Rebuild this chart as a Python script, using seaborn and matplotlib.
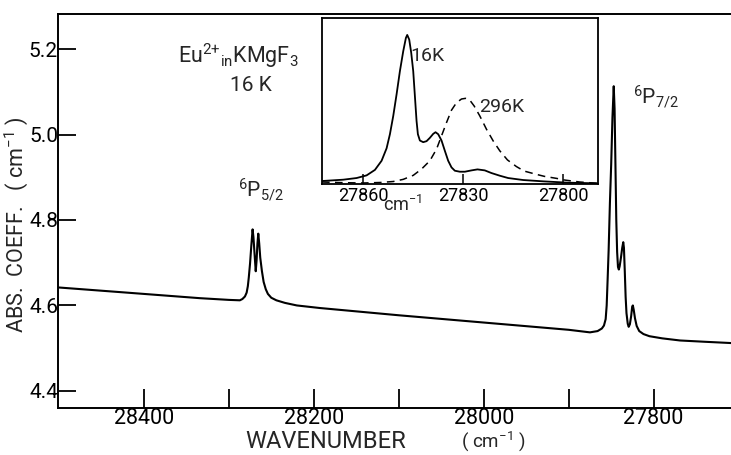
import matplotlib
matplotlib.use("Agg")
import matplotlib.pyplot as plt
import seaborn as sns
import pandas as pd

# main spectrum, 16 K (wavenumber cm-1, abs. coeff. cm-1)
main_wn = [28500, 28420, 28334, 28300, 28287, 28284, 28281, 28279, 28277.6, 28276.5,
           28275, 28273.5, 28272, 28271, 28269.5, 28268.3, 28267.3, 28266.3, 28265.3, 28264.2,
           28263, 28261, 28259, 28256.5, 28254, 28250, 28244, 28234, 28220, 28193,
           28100, 28000, 27900, 27875, 27866, 27861, 27858.5, 27856.5, 27855.3, 27854.2,
           27853, 27851.5, 27850, 27848.5, 27847, 27846, 27845, 27844, 27843, 27842,
           27841, 27840, 27838.5, 27837, 27835.8, 27835, 27834, 27833, 27832, 27830.5,
           27829.4, 27828, 27826.5, 27825.3, 27824.5, 27823.5, 27822, 27820, 27817, 27812,
           27805, 27790, 27769, 27740, 27709]
main_abs = [4.642, 4.630, 4.617, 4.613, 4.612, 4.615, 4.621, 4.630, 4.645, 4.665,
            4.698, 4.740, 4.778, 4.760, 4.715, 4.680, 4.705, 4.745, 4.768, 4.745,
            4.712, 4.680, 4.655, 4.638, 4.627, 4.618, 4.612, 4.606, 4.600, 4.594,
            4.577, 4.560, 4.543, 4.537, 4.540, 4.546, 4.553, 4.568, 4.600, 4.660,
            4.729, 4.840, 4.930, 5.040, 5.113, 5.060, 4.930, 4.800, 4.725, 4.690,
            4.684, 4.692, 4.712, 4.735, 4.748, 4.735, 4.680, 4.620, 4.582, 4.557,
            4.550, 4.556, 4.575, 4.597, 4.600, 4.590, 4.570, 4.552, 4.540, 4.533,
            4.528, 4.523, 4.518, 4.515, 4.512]

# inset: 6P7/2 line at 16 K and 296 K (relative units)
inset_wn_16 = [27872.4, 27866, 27862, 27859, 27856.5, 27854.5, 27853, 27852, 27851, 27850,
               27849, 27848, 27847.2, 27846.8, 27846.2, 27845.6, 27845, 27844.5, 27844, 27843.6,
               27843, 27842, 27841, 27840, 27839, 27838.3, 27837.5, 27836.5, 27835.5, 27834.5,
               27833.5, 27832.5, 27831, 27829.5, 27827.5, 27825.7, 27823.5, 27821.5, 27819, 27816.5,
               27812, 27806, 27798.6, 27789.6]
inset_abs_16 = [0.018, 0.026, 0.036, 0.052, 0.085, 0.140, 0.215, 0.300, 0.410, 0.540,
                0.680, 0.800, 0.880, 0.898, 0.870, 0.790, 0.680, 0.530, 0.380, 0.300,
                0.262, 0.252, 0.258, 0.278, 0.302, 0.312, 0.300, 0.262, 0.200, 0.140,
                0.100, 0.080, 0.074, 0.074, 0.082, 0.088, 0.082, 0.066, 0.050, 0.036,
                0.024, 0.016, 0.008, 0.004]
inset_wn_296 = [27872.4, 27866, 27860, 27855, 27851, 27848, 27845, 27842.5, 27840, 27838,
                27836.5, 27835, 27833.5, 27832, 27830.5, 27829.3, 27828, 27826.7, 27825, 27823,
                27821, 27819, 27816.7, 27814, 27811.7, 27808, 27805.6, 27802, 27799.6, 27795,
                27789.6]
inset_abs_296 = [0.012, 0.008, 0.006, 0.009, 0.015, 0.028, 0.052, 0.090, 0.140, 0.210,
                 0.290, 0.370, 0.445, 0.490, 0.512, 0.516, 0.505, 0.470, 0.410, 0.330,
                 0.260, 0.200, 0.145, 0.105, 0.078, 0.058, 0.046, 0.034, 0.024, 0.012,
                 0.004]

main_xticks = [28400, 28300, 28200, 28100, 28000, 27900, 27800]
main_xlabels = ["28400", "", "28200", "", "28000", "", "27800"]
main_yticks = [4.4, 4.6, 4.8, 5.0, 5.2]
inset_xticks = [27860, 27830, 27800]

sns.set_theme(style="ticks")
plt.rcParams["font.family"] = ["Roboto", "DejaVu Sans"]
plt.rcParams["mathtext.fontset"] = "custom"
plt.rcParams["mathtext.rm"] = "Roboto"
plt.rcParams["mathtext.it"] = "Roboto:italic"
plt.rcParams["mathtext.bf"] = "Roboto:bold"

W, H = 731, 455
fig = plt.figure(figsize=(W / 100, H / 100), dpi=100)
fig.patch.set_facecolor("white")

ax = fig.add_axes([58 / W, (H - 408) / H, (W - 58) / W, (408 - 14) / H])
df_main = pd.DataFrame({"wn": main_wn, "abs": main_abs})
sns.lineplot(data=df_main, x="wn", y="abs", sort=False, estimator=None,
             color="black", linewidth=1.5, ax=ax)
ax.set_xlim(28501, 27709)
ax.set_ylim(4.36, 5.282)
ax.set_xticks(main_xticks)
ax.set_xticklabels(main_xlabels)
ax.set_yticks(main_yticks)
ax.set_yticklabels([f"{v:.1f}" for v in main_yticks])
ax.tick_params(axis="x", direction="in", length=14, width=1.3, pad=0, labelsize=15.5, colors="black")
ax.tick_params(axis="y", direction="in", length=13, width=1.3, pad=0, labelsize=15, colors="black")
ax.set_xlabel("")
ax.set_ylabel("")
ax.spines["right"].set_visible(False)
for s in ["left", "bottom", "top"]:
    ax.spines[s].set_linewidth(1.4)
    ax.spines[s].set_color("black")
ax.set_facecolor("white")

ax.text(28360, 5.185, r"Eu$^{2{+}}$$_{\rm in}$KMgF$_3$", ha="left", va="center", fontsize=15.5)
ax.text(28274, 5.115, "16 K", ha="center", va="center", fontsize=15)
ax.text(28262, 4.871, r"$^6$P$_{5/2}$", ha="center", va="center", fontsize=15)
ax.text(27797, 5.089, r"$^6$P$_{7/2}$", ha="center", va="center", fontsize=15)

fig.text(326 / W, 1 - 442 / H, "WAVENUMBER", ha="center", va="center", fontsize=17)
fig.text(493 / W, 1 - 441 / H, r"( cm$^{-1}$ )", ha="center", va="center", fontsize=13.5)
fig.text(16 / W, 1 - 225 / H, r"ABS.  COEFF.   ( cm$^{-1}$ )", ha="center", va="center",
         rotation=90, fontsize=15.5)

# inset
axi = fig.add_axes([322 / W, (H - 184) / H, (598 - 322) / W, (184 - 18) / H])
df16 = pd.DataFrame({"wn": inset_wn_16, "abs": inset_abs_16})
df296 = pd.DataFrame({"wn": inset_wn_296, "abs": inset_abs_296})
sns.lineplot(data=df16, x="wn", y="abs", sort=False, estimator=None,
             color="black", linewidth=1.3, ax=axi)
sns.lineplot(data=df296, x="wn", y="abs", sort=False, estimator=None,
             color="black", linewidth=1.1, linestyle=(0, (5, 3.5)), ax=axi)
axi.set_xlim(27872.4, 27789.5)
axi.set_ylim(0, 1)
axi.set_xticks(inset_xticks)
axi.set_xticklabels([str(t) for t in inset_xticks])
axi.set_yticks([])
axi.tick_params(axis="x", direction="in", length=7, width=1.1, pad=2, labelsize=13, colors="black")
axi.set_xlabel("")
axi.set_ylabel("")
for s in axi.spines.values():
    s.set_visible(True)
    s.set_linewidth(1.3)
    s.set_color("black")
axi.set_facecolor("white")
axi.text(27840.7, 0.771, "16K", ha="center", va="center", fontsize=14)
axi.text(27818.4, 0.464, "296K", ha="center", va="center", fontsize=14)
axi.text(27848.2, -0.127, r"cm$^{-1}$", ha="center", va="center", fontsize=13, clip_on=False)

fig.savefig("out.png", dpi=100, facecolor="white")
